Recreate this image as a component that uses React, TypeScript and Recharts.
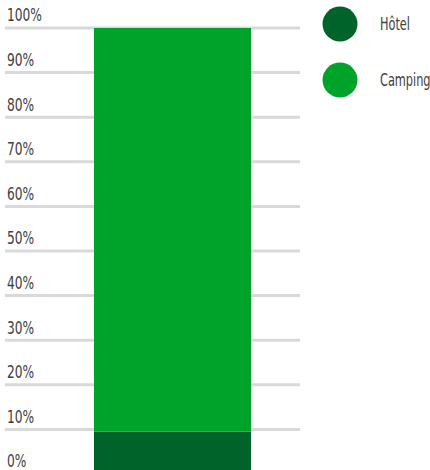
import { BarChart, Bar, XAxis, YAxis, CartesianGrid } from "recharts";

const categories = ["Hébergement"];
const hotelValues = [9.5];
const campingValues = [90.5];
const yTicks = [0, 10, 20, 30, 40, 50, 60, 70, 80, 90, 100];

const SERIES = [
  { key: "hotel", name: "Hôtel", color: "#00632a" },
  { key: "camping", name: "Camping", color: "#00a32a" },
];

const FONT = "'DejaVu Sans Condensed', sans-serif";

const data = categories.map((c, i) => ({
  name: c,
  hotel: hotelValues[i],
  camping: campingValues[i],
}));

function PercentTick(props: any) {
  const { y, payload } = props;
  return (
    <text
      x={0}
      y={0}
      dy="0.35em"
      transform={`translate(7, ${y - 12.5}) scale(0.8, 1)`}
      fill="#404040"
      fontSize={17}
      fontFamily={FONT}
      textAnchor="start"
    >
      {payload.value}%
    </text>
  );
}

export default function App() {
  return (
    <div style={{ position: "absolute", left: 0, top: 0, width: 430, height: 470, background: "#fff" }}>
      <BarChart width={430} height={470} data={data} margin={{ top: 28, right: 130, left: 5, bottom: -4 }}>
        <CartesianGrid horizontal vertical={false} stroke="#d9d9d9" strokeWidth={3} />
        <XAxis dataKey="name" hide padding={{ left: 39, right: 0 }} />
        <YAxis
          domain={[0, 100]}
          ticks={yTicks}
          width={40}
          mirror
          axisLine={false}
          tickLine={false}
          tick={<PercentTick />}
          interval={0}
        />
        {SERIES.map((s) => (
          <Bar key={s.key} dataKey={s.key} name={s.name} stackId="a" fill={s.color} barSize={157} isAnimationActive={false} />
        ))}
      </BarChart>
      <div style={{ position: "absolute", left: 322, top: -4, width: 108, fontFamily: FONT }}>
        {SERIES.map((s) => (
          <div key={s.key} style={{ display: "flex", alignItems: "center", height: 56 }}>
            <svg width={36} height={36} style={{ flexShrink: 0 }}>
              <circle cx={18} cy={18} r={17.5} fill={s.color} />
            </svg>
            <span
              style={{
                marginLeft: 22,
                fontSize: 17,
                color: "#404040",
                display: "inline-block",
                transform: "scaleX(0.74)",
                transformOrigin: "left center",
                whiteSpace: "nowrap",
              }}
            >
              {s.name}
            </span>
          </div>
        ))}
      </div>
    </div>
  );
}
